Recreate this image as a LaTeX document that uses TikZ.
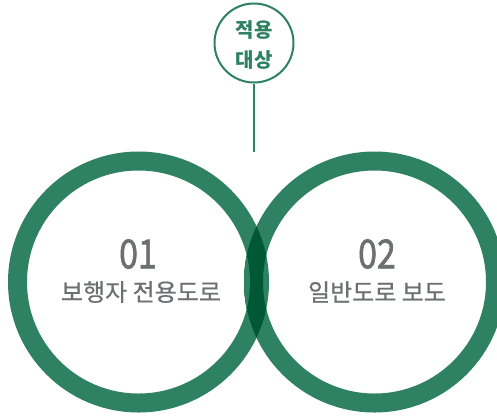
\documentclass[tikz,border=0pt]{standalone}
\usepackage{fontspec}
\newfontfamily\cjk{Noto Sans CJK KR}
\newfontfamily\cjkmed{Noto Sans CJK KR}[FakeBold=0.6]
\newfontfamily\cjknum{Noto Sans CJK KR}[FakeBold=1.6]
\definecolor{ringgreen}{RGB}{46,130,99}
\definecolor{darkgreen}{RGB}{0,88,55}
\definecolor{txtgray}{RGB}{110,111,114}
\tikzset{
  ring/.style={draw=ringgreen, line width=19pt},
  ringdark/.style={draw=darkgreen, line width=19pt},
  numlabel/.style={text=txtgray, font=\cjknum\fontsize{40}{42}\selectfont, inner sep=0pt, xscale=0.85},
  namelabel/.style={text=txtgray, font=\cjkmed\fontsize{24}{26}\selectfont, inner sep=0pt},
  target/.style={circle, draw=ringgreen, line width=2pt, minimum size=79pt, inner sep=0pt, fill=white},
  targettext/.style={text=ringgreen, font=\cjk\bfseries\fontsize{20}{30}\selectfont, align=center, inner sep=0pt},
  stem/.style={draw=ringgreen, line width=2pt}
}
\begin{document}
\begin{tikzpicture}[x=1pt,y=-1pt]
\useasboundingbox (0,0) rectangle (497,416);
\fill[white] (0,0) rectangle (497,416);
\clip (0,0) rectangle (497,416);
\coordinate (c1) at (138.5,282);
\coordinate (c2) at (374.5,282);
\draw[ring] (c1) circle[radius=121];
\draw[ring] (c2) circle[radius=121];
\begin{scope}
  \clip (c1) circle[radius=130.5];
  \draw[ringdark] (c2) circle[radius=121];
\end{scope}
\begin{scope}
  \clip (c1) circle[radius=111.5];
  \draw[ring] (c2) circle[radius=121];
\end{scope}
\node[target] (tgt) at (254,43) {};
\node[targettext] (tgttext) at (254,45) {적용\\[0pt]대상};
\coordinate (stemend) at (254,152);
\draw[stem] (tgt.south) -- (stemend);
\node[numlabel] (n1) at (138,254) {01};
\node[namelabel] (l1) at (141,292) {보행자 전용도로};
\node[numlabel] (n2) at (377,254) {02};
\node[namelabel] (l2) at (377,292) {일반도로 보도};
\end{tikzpicture}
\end{document}
